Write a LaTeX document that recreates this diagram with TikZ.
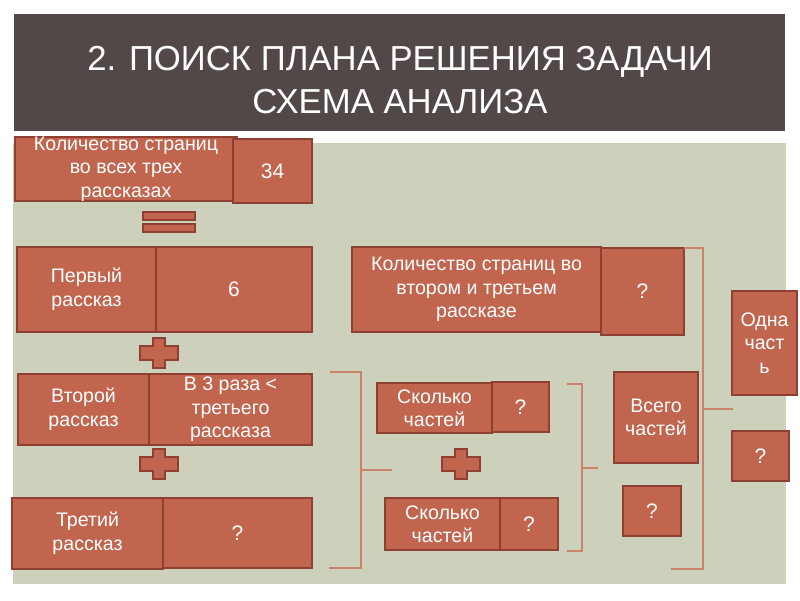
\documentclass[tikz,border=0pt]{standalone}
\usepackage{fontspec}
\setmainfont{Liberation Sans}
\definecolor{brick}{RGB}{193,101,79}
\definecolor{bdr}{RGB}{142,64,50}
\definecolor{panel}{RGB}{205,209,187}
\definecolor{titlebg}{RGB}{82,72,71}
\definecolor{brk}{RGB}{201,130,108}
\newcommand{\mybox}[7]{%
  \node[box, minimum width=#4pt-#2pt, minimum height=#5pt-#3pt] (#1) at ({(#2+#4)/2},{(#3+#5)/2}) {};
  \node[#6] (#1t) at (#1.center) {#7};}
\begin{document}
\begin{tikzpicture}[x=1pt,y=-1pt,
  box/.style={draw=bdr, fill=brick, line width=1.3pt, inner sep=0pt, outer sep=0pt},
  lbl/.style={text=white, align=center, font=\fontsize{19.6}{23.5}\selectfont, inner sep=0pt},
  num/.style={text=white, font=\fontsize{21}{25}\selectfont, inner sep=0pt},
  brline/.style={draw=brk, line width=1.1pt},
  ttl/.style={text=white, font=\fontsize{34.7}{43}\selectfont, anchor=base, inner sep=0pt},
  pics/plussign/.style={code={
    \draw[box] (-19,-7) -- (-6,-7) -- (-6,-15) -- (6,-15) -- (6,-7) -- (19,-7) -- (19,7) -- (6,7) -- (6,15) -- (-6,15) -- (-6,7) -- (-19,7) -- cycle;}}]
\useasboundingbox (0,0) rectangle (800,600);
\fill[white] (0,0) rectangle (800,600);
\fill[titlebg] (14,14) rectangle (785,131);
\fill[panel] (13,143) rectangle (786,584);
\node[ttl] (title1) at (400,70) {2. ПОИСК ПЛАНА РЕШЕНИЯ ЗАДАЧИ};
\node[ttl] (title2) at (400,113) {СХЕМА АНАЛИЗА};
% left column
\mybox{a}{15}{137}{237}{201}{lbl}{Количество страниц\\во всех трех\\рассказах}
\mybox{b}{233}{139}{312}{203}{num}{34}
\node[box, minimum width=52pt, minimum height=8pt] (eq1) at (169,216) {};
\node[box, minimum width=52pt, minimum height=8pt] (eq2) at (169,228) {};
\mybox{c}{17}{247}{156}{332}{lbl}{Первый\\рассказ}
\mybox{d}{156}{247}{312}{332}{num}{6}
\pic (p1) at (159,353) {plussign};
\mybox{e}{18}{374}{149}{445}{lbl}{Второй\\рассказ}
\mybox{f}{149}{374}{312}{445}{lbl}{В 3 раза <\\третьего\\рассказа}
\pic (p2) at (159,464) {plussign};
\mybox{g}{12}{498}{163}{569}{lbl}{Третий\\рассказ}
\mybox{h}{163}{498}{312}{568}{num}{?}
% middle
\mybox{i}{352}{247}{601}{332}{lbl}{Количество страниц во\\втором и третьем\\рассказе}
\mybox{j}{601}{248}{684}{335}{num}{?}
\mybox{k}{377}{383}{492}{433}{lbl}{Сколько\\частей}
\mybox{l}{492}{382}{549}{432}{num}{?}
\pic (p3) at (461,464) {plussign};
\mybox{m}{385}{498}{500}{550}{lbl}{Сколько\\частей}
\mybox{n}{500}{498}{558}{550}{num}{?}
% right
\mybox{o}{614}{372}{698}{463}{lbl}{Всего\\частей}
\mybox{p}{623}{486}{681}{536}{num}{?}
\mybox{q}{732}{291}{797}{395}{lbl}{Одна\\част\\ь}
\mybox{r}{732}{431}{789}{481}{num}{?}
% brackets
\coordinate (la) at (330,372); \coordinate (lb) at (361,372);
\coordinate (lc) at (361,568); \coordinate (ld) at (329,568);
\coordinate (lm) at (361,470); \coordinate (lt) at (392,470);
\draw[brline] (la) -- (lb) -- (lc) -- (ld);
\draw[brline] (lm) -- (lt);
\coordinate (ma) at (567,384); \coordinate (mb) at (582,384);
\coordinate (mc) at (582,551); \coordinate (md) at (567,551);
\coordinate (mm) at (582,468); \coordinate (mt) at (598,468);
\draw[brline] (ma) -- (mb) -- (mc) -- (md);
\draw[brline] (mm) -- (mt);
\coordinate (ra) at (684,248); \coordinate (rb) at (703,248);
\coordinate (rc) at (703,569); \coordinate (rd) at (671,569);
\coordinate (rm) at (703,409); \coordinate (rt) at (733,409);
\draw[brline] (ra) -- (rb) -- (rc) -- (rd);
\draw[brline] (rm) -- (rt);
\end{tikzpicture}
\end{document}
